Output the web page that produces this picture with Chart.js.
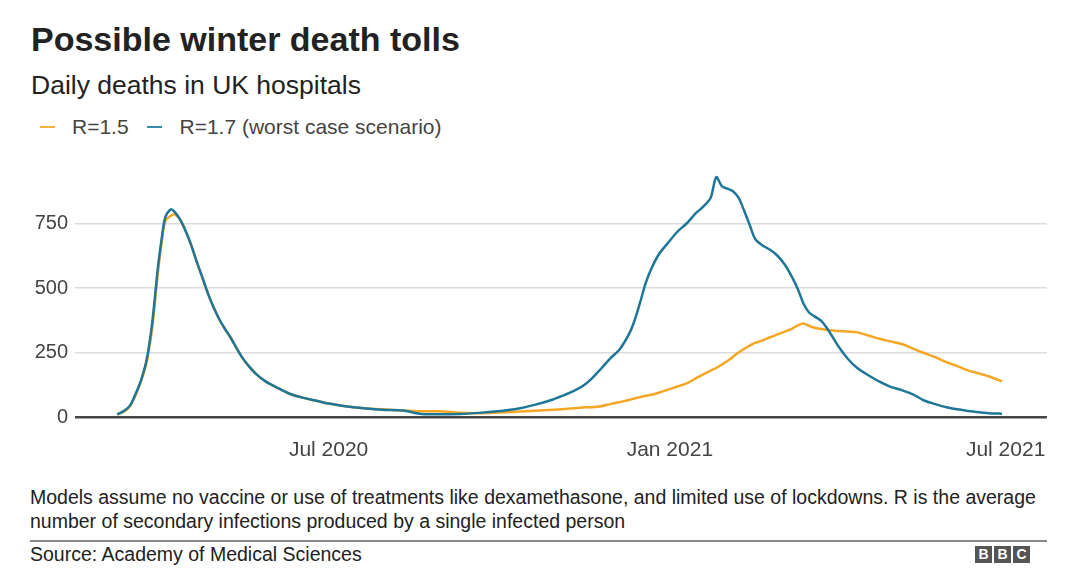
<!DOCTYPE html>
<html>
<head>
<meta charset="utf-8">
<script src="https://cdn.jsdelivr.net/npm/chart.js@4.4.0/dist/chart.umd.min.js"></script>
<style>
  body { margin: 0; background: #fff; font-family: "Liberation Sans", Arial, sans-serif; }
  #page { position: relative; width: 1080px; height: 587px; overflow: hidden; background: #fff; }
  #title { position: absolute; left: 31px; top: 20px; font-size: 34px; font-weight: bold; color: #222; }
  #subtitle { position: absolute; left: 31px; top: 70px; font-size: 26.5px; color: #222; }
  #legend { position: absolute; left: 40px; top: 115px; font-size: 21px; color: #444; white-space: nowrap; }
  #legend span.item { margin-right: 13px; }
  #legend span.key { display: inline-block; width: 15px; height: 2px; vertical-align: middle; margin-right: 17px; position: relative; top: -1px; }
  #chartBox { position: absolute; left: 0; top: 140px; width: 1080px; height: 327px; }
  #note { position: absolute; left: 30px; top: 485px; width: 1045px; font-size: 19.5px; line-height: 24px; color: #222; white-space: nowrap; }
  #rule { position: absolute; left: 30px; top: 540px; width: 1017px; height: 0; border-top: 2px solid #888; }
  #source { position: absolute; left: 30px; top: 543px; font-size: 19.5px; color: #222; }
  #bbc { position: absolute; left: 975px; top: 545px; }
  #bbc span { display: inline-block; width: 17px; height: 17px; background: #555; color: #fff; font-weight: bold; font-size: 14px; line-height: 17px; text-align: center; margin-right: 2px; }
</style>
</head>
<body>
<div id="page">
  <div id="title">Possible winter death tolls</div>
  <div id="subtitle">Daily deaths in UK hospitals</div>
  <div id="legend">
    <span class="item"><span class="key" style="background:#f5b040"></span>R=1.5</span>
    <span class="item"><span class="key" style="background:#3a8aa8"></span>R=1.7 (worst case scenario)</span>
  </div>
  <div id="chartBox"><canvas id="myChart"></canvas></div>
  <div id="note">Models assume no vaccine or use of treatments like dexamethasone, and limited use of lockdowns. R is the average<br>number of secondary infections produced by a single infected person</div>
  <div id="rule"></div>
  <div id="source">Source: Academy of Medical Sciences</div>
  <div id="bbc"><span>B</span><span>B</span><span>C</span></div>
</div>
<script>
// dates (shared by both scenarios)
const dates = [
  '2020-03-09','2020-03-13','2020-03-16','2020-03-19','2020-03-22','2020-03-25','2020-03-28','2020-03-31',
  '2020-04-02','2020-04-04','2020-04-07','2020-04-09','2020-04-12','2020-04-15','2020-04-18','2020-04-21',
  '2020-04-24','2020-04-27','2020-04-30','2020-05-03','2020-05-06','2020-05-09','2020-05-12','2020-05-15',
  '2020-05-19','2020-05-23','2020-05-28','2020-06-03','2020-06-10','2020-06-17','2020-06-24','2020-07-01',
  '2020-07-10','2020-07-20','2020-07-30','2020-08-10','2020-08-20','2020-08-30','2020-09-10','2020-09-20',
  '2020-09-30','2020-10-10','2020-10-20','2020-10-30','2020-11-05','2020-11-10','2020-11-15','2020-11-20',
  '2020-11-25','2020-11-30','2020-12-05','2020-12-10','2020-12-13','2020-12-16','2020-12-19','2020-12-22',
  '2020-12-26','2020-12-31','2021-01-05','2021-01-10','2021-01-15','2021-01-19','2021-01-23','2021-01-26',
  '2021-01-29','2021-02-01','2021-02-04','2021-02-07','2021-02-10','2021-02-13','2021-02-16','2021-02-20',
  '2021-02-24','2021-02-28','2021-03-04','2021-03-08','2021-03-11','2021-03-14','2021-03-17','2021-03-20',
  '2021-03-24','2021-03-28','2021-04-02','2021-04-07','2021-04-12','2021-04-18','2021-04-24','2021-04-30',
  '2021-05-06','2021-05-12','2021-05-18','2021-05-24','2021-05-30','2021-06-05','2021-06-11','2021-06-17',
  '2021-06-23','2021-06-29'
];

// R=1.5
const r15 = [
  10, 22, 42, 85, 140, 215, 350, 560,
  675, 760, 780, 785, 765, 720, 665, 600,
  540, 478, 425, 380, 343, 310, 272, 235,
  197, 166, 138, 115, 90, 75, 64, 52,
  42, 34, 30, 25, 22, 22, 16, 15,
  17, 20, 24, 28, 31, 34, 37, 38,
  42, 50, 58, 66, 72, 77, 82, 86,
  94, 106, 118, 130, 150, 165, 180, 190,
  203, 217, 233, 250, 264, 277, 287, 297,
  309, 320, 331, 343, 355, 362, 353, 346,
  341, 336, 333, 331, 328, 316, 303, 293,
  283, 265, 248, 232, 213, 197, 180, 168,
  155, 138
];

// R=1.7 (worst case scenario)
const r17 = [
  10, 25, 45, 90, 145, 225, 370, 580,
  690, 775, 805, 795, 765, 720, 665, 600,
  540, 478, 425, 380, 343, 310, 272, 235,
  197, 166, 138, 115, 90, 75, 64, 52,
  42, 34, 28, 25, 12, 11, 12, 16,
  22, 31, 47, 68, 85, 100, 120, 150,
  188, 228, 263, 322, 375, 445, 520, 575,
  630, 675, 718, 750, 790, 815, 850, 930,
  895, 885, 875, 850, 800, 745, 690, 665,
  648, 625, 590, 540, 495, 440, 405, 390,
  370, 330, 272, 225, 190, 162, 137, 117,
  104, 88, 64, 50, 38, 30, 23, 18,
  14, 13
];

const tickDates = ['2020-07-01', '2021-01-01', '2021-07-01'];
const tickLabels = ['Jul 2020', 'Jan 2021', 'Jul 2021'];
const yTicks = [0, 250, 500, 750];

// day number counted from 1 Mar 2020
const base = Date.UTC(2020, 2, 1);
function dayOf(s) {
  const p = s.split('-');
  return (Date.UTC(+p[0], +p[1] - 1, +p[2]) - base) / 86400000;
}
const days = dates.map(dayOf);
const tickDays = tickDates.map(dayOf);

const ctx = document.getElementById('myChart');
const myChart = new Chart(ctx, {
  type: 'line',
  data: {
    datasets: [
      {
        label: 'R=1.5',
        data: days.map((d, i) => ({x: d, y: r15[i]})),
        borderColor: '#f5a623',
        borderWidth: 2.5,
        pointRadius: 0,
        tension: 0.3,
        order: 1
      },
      {
        label: 'R=1.7 (worst case scenario)',
        data: days.map((d, i) => ({x: d, y: r17[i]})),
        borderColor: '#1f7797',
        borderWidth: 2.5,
        pointRadius: 0,
        tension: 0.3,
        order: 0
      }
    ]
  },
  options: {
    responsive: true,
    maintainAspectRatio: false,
    animation: false,
    layout: { padding: { top: 12, right: 33, left: 0, bottom: 0 } },
    plugins: { legend: { display: false }, tooltip: { enabled: false } },
    scales: {
      x: {
        type: 'linear',
        min: -14.7,
        max: 509.3,
        afterBuildTicks: function(scale) {
          scale.ticks = tickDays.map(v => ({value: v}));
        },
        afterFit: function(scale) { scale.height = 50; },
        grid: { display: false, drawTicks: false },
        border: { display: false },
        ticks: {
          padding: 21,
          maxRotation: 0,
          autoSkip: false,
          color: '#444',
          font: { family: '"Liberation Sans", Arial, sans-serif', size: 21 },
          callback: function(val, index) { return tickLabels[index]; }
        }
      },
      y: {
        min: 0,
        max: 1000,
        afterBuildTicks: function(scale) {
          scale.ticks = yTicks.map(v => ({value: v}));
        },
        afterFit: function(scale) { scale.width = 75; },
        grid: {
          drawTicks: false,
          color: c => c.tick && c.tick.value === 0 ? '#444' : '#dcdcdc',
          lineWidth: c => c.tick && c.tick.value === 0 ? 2.5 : 1.5
        },
        border: { display: false },
        ticks: {
          padding: 7,
          color: '#444',
          font: { family: '"Liberation Sans", Arial, sans-serif', size: 20 }
        }
      }
    }
  }
});
</script>
</body>
</html>
